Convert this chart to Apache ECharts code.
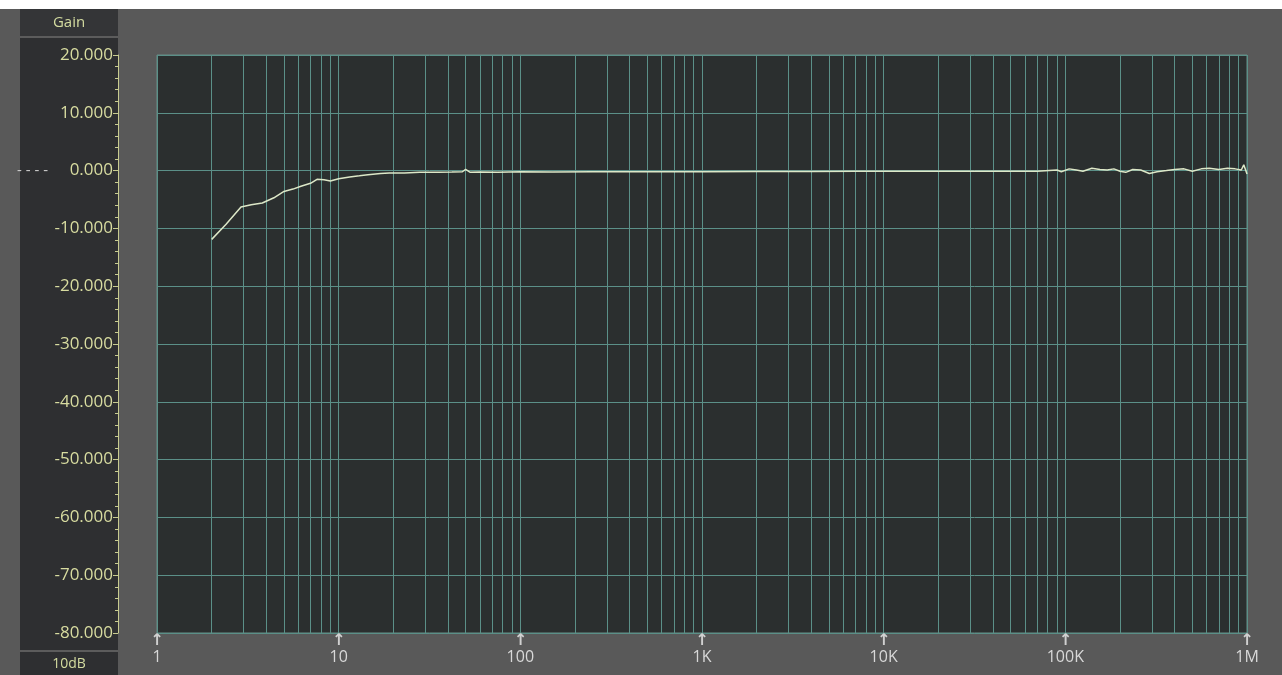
<!DOCTYPE html>
<html>
<head>
<meta charset="utf-8">
<script src="https://cdn.jsdelivr.net/npm/echarts@6/dist/echarts.min.js"></script>
<style>
html,body{margin:0;padding:0;background:#595959;}
#chart{width:1282px;height:675px;}
</style>
</head>
<body>
<div id="chart"></div>
<script>
// Frequency (Hz) and gain (dB)
const freq = [2, 2.4, 2.9, 3.3, 3.8, 4.4, 5, 5.6, 6.2, 7,
  7.6, 8.3, 9, 10, 11.5, 13, 14.5, 17, 19, 23,
  28, 35, 42, 48, 50, 53, 60, 75, 100, 150,
  250, 400, 700, 1000, 2000, 4000, 7000, 10000, 20000, 40000,
  70000, 90000, 95000, 105000, 115000, 125000, 140000, 155000, 170000, 185000,
  200000, 215000, 235000, 260000, 290000, 320000, 360000, 400000, 450000, 500000,
  560000, 620000, 700000, 780000, 860000, 930000, 960000, 1000000];
const gain = [-11.9, -9.3, -6.3, -5.9, -5.6, -4.7, -3.6, -3.2, -2.7, -2.2,
  -1.5, -1.6, -1.8, -1.4, -1.1, -0.9, -0.7, -0.5, -0.4, -0.4,
  -0.3, -0.3, -0.25, -0.2, 0.2, -0.3, -0.25, -0.3, -0.2, -0.25,
  -0.2, -0.2, -0.2, -0.2, -0.15, -0.15, -0.1, -0.1, -0.1, -0.1,
  -0.1, 0.1, -0.2, 0.3, 0.1, -0.1, 0.4, 0.2, 0.1, 0.3,
  -0.1, -0.3, 0.2, 0.1, -0.5, -0.2, 0.0, 0.2, 0.3, -0.1,
  0.3, 0.4, 0.2, 0.4, 0.3, 0.1, 1.0, -0.6];
const decadeValues = [1, 10, 100, 1000, 10000, 100000, 1000000];
const decadeLabels = ['1', '10', '100', '1K', '10K', '100K', '1M'];
const yTitle = 'Gain';
const yUnit = '10dB';

// vertical log grid lines (1..9 per decade)
const gridFreqs = [];
for (let d = 1; d < 1000000; d *= 10) {
  for (let m = 1; m <= 9; m++) gridFreqs.push(m * d);
}
gridFreqs.push(1000000);

const GRID = '#5b9088';
const FONT = '"Open Sans","Noto Sans",sans-serif';
const chart = echarts.init(document.getElementById('chart'));
chart.setOption({
  backgroundColor: '#595959',
  animation: false,
  textStyle: { fontFamily: FONT },
  graphic: [
    { type: 'rect', shape: { x: 0, y: 0, width: 1282, height: 9 }, style: { fill: '#ffffff' }, silent: true },
    { type: 'rect', shape: { x: 20, y: 9, width: 98, height: 666 }, style: { fill: '#2e2f31' }, silent: true },
    { type: 'rect', shape: { x: 20, y: 9, width: 98, height: 28 }, style: { fill: '#343537' }, silent: true },
    { type: 'line', shape: { x1: 20, y1: 37, x2: 118, y2: 37 }, style: { stroke: '#5c5c5c', lineWidth: 2 }, silent: true },
    { type: 'line', shape: { x1: 20, y1: 651, x2: 118, y2: 651 }, style: { stroke: '#5c5c5c', lineWidth: 2 }, silent: true },
    { type: 'text', x: 69, y: 23, style: { text: yTitle, fill: '#d4dca0', font: '15px ' + FONT, align: 'center', verticalAlign: 'middle' } },
    { type: 'text', x: 69, y: 664, style: { text: yUnit, fill: '#d4dca0', font: '14px ' + FONT, align: 'center', verticalAlign: 'middle' } }
  ],
  grid: { left: 157, right: 35, top: 55, bottom: 42, show: true, backgroundColor: '#2b2f2f', borderColor: '#6a8f88', borderWidth: 1 },
  xAxis: {
    type: 'log', logBase: 10, min: 1, max: 1000000,
    axisLine: { show: false },
    axisTick: { show: false },
    splitLine: { show: false },
    axisLabel: {
      margin: 1,
      formatter: function (v) {
        const i = decadeValues.findIndex(d => Math.abs(d - v) / d < 1e-6);
        return i >= 0 ? '{a|↑}\n{b|' + decadeLabels[i] + '}' : '';
      },
      rich: {
        a: { color: '#d0d0d0', fontSize: 16, fontWeight: 'bold', lineHeight: 14, fontFamily: 'DejaVu Sans' },
        b: { color: '#d8d8d8', fontSize: 16, lineHeight: 19 }
      }
    }
  },
  yAxis: {
    type: 'value', min: -80, max: 20, interval: 10,
    offset: 39,
    axisLine: { show: true, lineStyle: { color: '#c8cc90', width: 1 } },
    axisTick: { show: true, length: 5, lineStyle: { color: '#c8cc90' } },
    minorTick: { show: true, splitNumber: 5, length: 3, lineStyle: { color: '#c8cc90' } },
    splitLine: { show: true, lineStyle: { color: GRID, width: 1 } },
    axisLabel: {
      margin: 5, fontSize: 17, color: '#d8dca0',
      formatter: function (v) {
        return v === 0 ? '{d|- - - - }    0.000' : v.toFixed(3);
      },
      rich: { d: { color: '#d0d0d0', fontSize: 15 } }
    }
  },
  series: [{
    type: 'line',
    data: freq.map((f, i) => [f, gain[i]]),
    showSymbol: false,
    lineStyle: { color: '#dde8c8', width: 1.5 },
    z: 5,
    markLine: {
      silent: true, symbol: 'none', label: { show: false },
      lineStyle: { color: GRID, type: 'solid', width: 1 },
      data: gridFreqs.map(f => ({ xAxis: f }))
    }
  }]
});
</script>
</body>
</html>
